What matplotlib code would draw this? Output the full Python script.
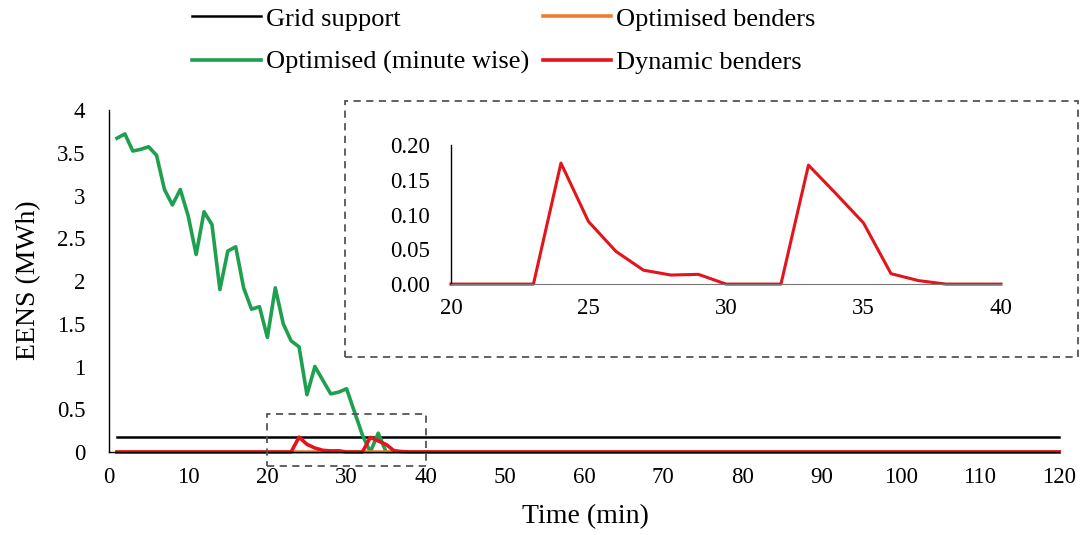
import matplotlib
matplotlib.use("Agg")
import matplotlib.pyplot as plt
from matplotlib.patches import Rectangle
from matplotlib.ticker import FuncFormatter

plt.rcParams["font.family"] = ["Liberation Serif", "DejaVu Serif"]

# time axis (minutes)
minutes = list(range(1, 121))

# EENS values (MWh)
grid_support = [0.172] * 120

optimised_minute = [3.67, 3.72, 3.52, 3.54, 3.57, 3.47, 3.07, 2.89, 3.07, 2.76,
                    2.31, 2.81, 2.66, 1.90, 2.35, 2.40, 1.92, 1.67, 1.70, 1.34,
                    1.92, 1.50, 1.30, 1.23, 0.67, 1.00, 0.84, 0.68, 0.70, 0.74,
                    0.47, 0.20, 0.00, 0.22, 0.00] + [0.0] * 85

optimised_benders = [0.0] * 120

dynamic_benders = [0.0] * 23 + [0.174, 0.090, 0.047, 0.020, 0.013, 0.014,
                                0.0, 0.0, 0.0, 0.171, 0.130, 0.088, 0.015,
                                0.005] + [0.0] * 83

main_yticks = [0, 0.5, 1, 1.5, 2, 2.5, 3, 3.5, 4]
main_xticks = list(range(0, 121, 10))
inset_yticks = [0.0, 0.05, 0.10, 0.15, 0.20]
inset_xticks = [20, 25, 30, 35, 40]

c_black = "#000000"
c_orange = "#ED7D31"
c_green = "#1FA050"
c_red = "#E3141B"
c_dash = "#555555"

fig = plt.figure(figsize=(10.84, 5.35), dpi=100)

# main axes
ax = fig.add_axes([0.1006, 0.1551, 0.8764, 0.6393])
l1, = ax.plot(minutes, grid_support, color=c_black, lw=1.8, label="Grid support")
l2, = ax.plot(minutes, optimised_minute, color=c_green, lw=2.6,
              label="Optimised (minute wise)")
l3, = ax.plot(minutes, optimised_benders, color=c_orange, lw=2.6,
              label="Optimised benders")
l4, = ax.plot(minutes, dynamic_benders, color=c_red, lw=2.6,
              label="Dynamic benders")
for ln in (l1, l2, l3, l4):
    ln.set_clip_on(False)
ax.set_xlim(0, 120)
ax.set_ylim(0, 4)
ax.set_xticks(main_xticks)
ax.set_yticks(main_yticks)
ax.yaxis.set_major_formatter(FuncFormatter(lambda v, p: f"{v:g}"))
for s in ["top", "right"]:
    ax.spines[s].set_visible(False)
ax.spines["left"].set_linewidth(1.0)
ax.spines["bottom"].set_linewidth(1.0)
ax.tick_params(axis="x", length=0, pad=11, labelsize=16.5)
ax.tick_params(axis="y", length=0, pad=17, labelsize=16.5)
ax.set_xlabel("Time (min)", fontsize=20)
ax.set_ylabel("EENS (MWh)", fontsize=20)
ax.xaxis.set_label_coords(0.501, -0.152)
ax.yaxis.set_label_coords(-0.072, 0.503)

# dashed box marking the zoomed region
ax.add_patch(Rectangle((20, -0.16), 20, 0.60, fill=False, ls=(0, (4, 3)),
                       lw=1.3, ec=c_dash, clip_on=False, zorder=5))

# dashed frame around the inset
fig.patches.append(Rectangle((0.318, 0.3327), 0.6765, 0.4783, fill=False,
                             ls=(0, (4, 3)), lw=1.3, ec=c_dash,
                             transform=fig.transFigure, figure=fig))

# inset
ins = fig.add_axes([0.416, 0.469, 0.5074, 0.260])
ins.plot(minutes[19:40], dynamic_benders[19:40], color=c_red, lw=2.2,
         clip_on=False)
ins.set_xlim(20, 40)
ins.set_ylim(0, 0.20)
ins.set_xticks(inset_xticks)
ins.set_yticks(inset_yticks)
ins.yaxis.set_major_formatter(FuncFormatter(lambda v, p: f"{v:.2f}"))
for s in ["top", "right"]:
    ins.spines[s].set_visible(False)
ins.spines["left"].set_linewidth(1.0)
ins.spines["bottom"].set_color("#777777")
ins.tick_params(axis="x", length=0, pad=10, labelsize=16.5)
ins.tick_params(axis="y", length=0, pad=15, labelsize=16.5)
ins.set_facecolor("none")

fig.legend(handles=[l1, l2, l3, l4], loc="center", ncol=2,
           bbox_to_anchor=(0.465, 0.924), frameon=False, fontsize=19,
           handlelength=2.6, handletextpad=0.2, columnspacing=0.5,
           labelspacing=0.75)

fig.savefig("out.png", dpi=100)
